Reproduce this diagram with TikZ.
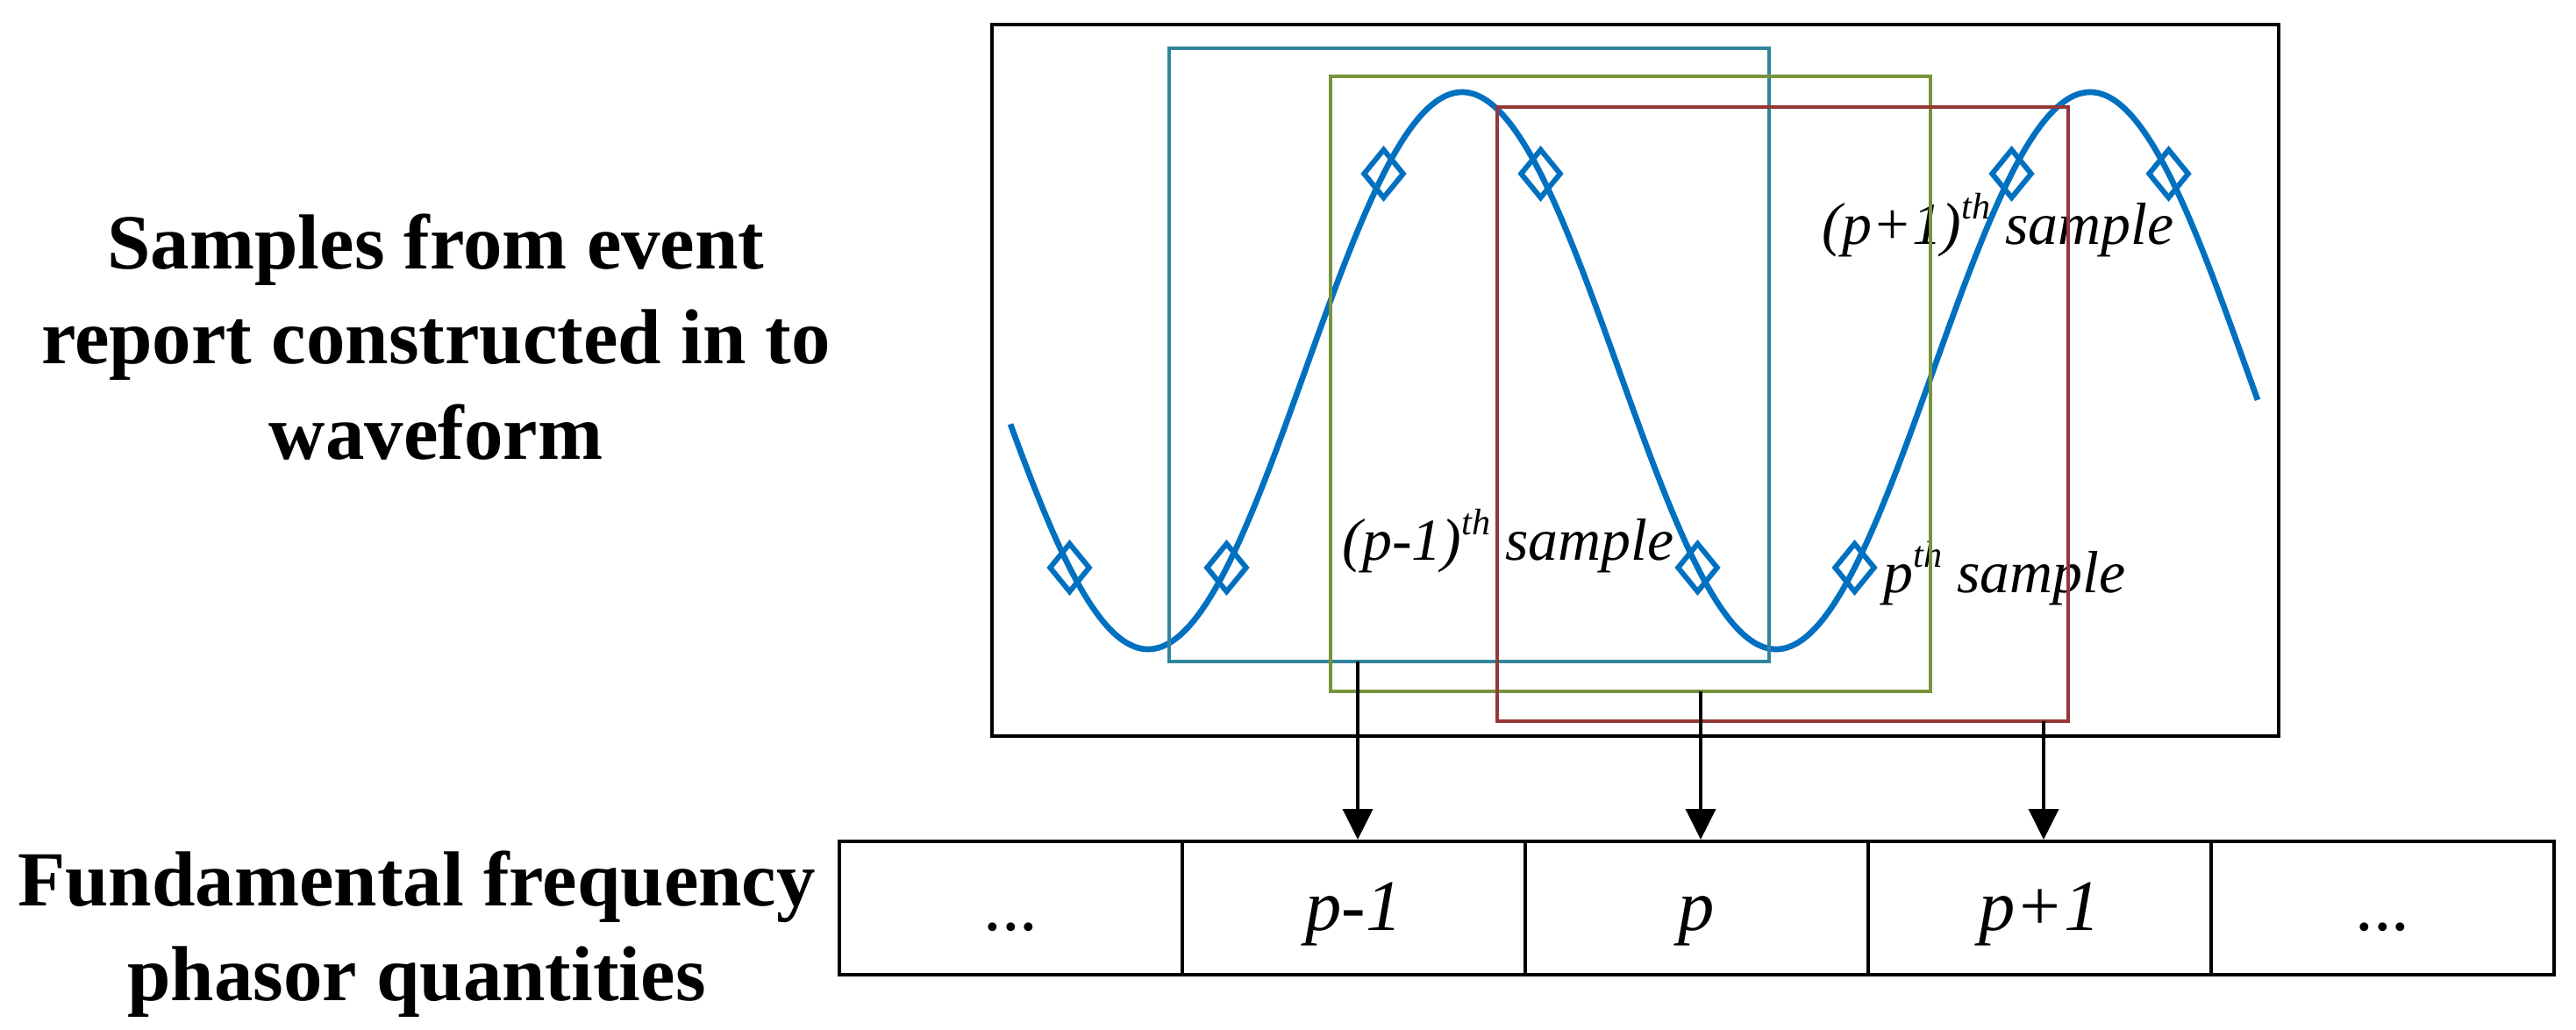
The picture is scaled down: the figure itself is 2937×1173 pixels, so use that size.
\documentclass[tikz,border=0pt]{standalone}
\usepackage{fontspec}
\setmainfont{Liberation Serif}
\usetikzlibrary{shapes.geometric,arrows.meta}
\definecolor{wavec}{HTML}{0070C0}
\definecolor{tealc}{HTML}{31859C}
\definecolor{greenc}{HTML}{77933C}
\definecolor{redc}{HTML}{953735}
\newcommand{\thsup}{\raisebox{0.42em}{\fontsize{12pt}{14pt}\selectfont th}}
\tikzset{
  frame/.style={draw=black, line width=1.3pt, inner sep=0},
  winbox/.style={draw=#1, line width=1pt, inner sep=0},
  wave/.style={draw=wavec, line width=1.9pt},
  marker/.style={diamond, draw=wavec, line width=1.7pt, inner sep=0, minimum width=4.7mm, minimum height=5.7mm},
  lbl/.style={inner sep=0, font=\fontsize{19.3pt}{22pt}\selectfont\itshape},
  bigtxt/.style={anchor=north, align=center, inner sep=0, font=\fontsize{25.3pt}{30.9pt}\selectfont\bfseries},
  cell/.style={draw, line width=1.15pt, minimum width=39.1mm, minimum height=15.2mm, inner sep=0, text height=6mm, text depth=1mm, font=\fontsize{23.5pt}{26pt}\selectfont\itshape},
  arr/.style={line width=1.15pt, -{Triangle[length=3.5mm,width=3.4mm]}}
}
\begin{document}
\begin{tikzpicture}[x=0.1mm,y=-0.1mm]
\useasboundingbox (0,0) rectangle (2937,1173);
% outer frame
\node[frame, minimum width=146.7mm, minimum height=81.1mm] (frame) at (1864.5,433.5) {};
% waveform
\draw[wave] plot[domain=-157:1265, samples=300, smooth] ({1309+\x}, {422.5+317.5*cos(\x*0.502793)});
% sample markers
\node[marker] (m1) at (1219.5,647) {};
\node[marker] (m2) at (1398.5,647) {};
\node[marker] (m3) at (1577.5,198) {};
\node[marker] (m4) at (1756.5,198) {};
\node[marker] (m5) at (1935.5,647) {};
\node[marker] (m6) at (2114.5,647) {};
\node[marker] (m7) at (2293.5,198) {};
\node[marker] (m8) at (2472.5,198) {};
% sample labels
\node[lbl, anchor=base west] (lpm) at (1530,638) {(p-1)\thsup{} sample};
\node[lbl, anchor=base west] (lp) at (2147,675) {p\thsup{} sample};
\node[lbl, anchor=base west] (lpp) at (2077,278) {(p+1)\thsup{} sample};
% windows
\node[winbox=tealc, minimum width=68.4mm, minimum height=69.9mm] (w1) at (1675,404.5) {};
\node[winbox=greenc, minimum width=68.4mm, minimum height=70.1mm] (w2) at (1859,437.5) {};
\node[winbox=redc, minimum width=65.1mm, minimum height=70.0mm] (w3) at (2032.5,472) {};
% left texts
\node[bigtxt] (t1) at (497,243) {Samples from event\\report constructed in to\\waveform};
\node[bigtxt] (t2) at (475,969) {Fundamental frequency\\phasor quantities};
% phasor cells
\node[cell] (c0) at (1152.5,1035) {\upshape ...};
\node[cell] (c1) at (1543.5,1035) {p-1};
\node[cell] (c2) at (1934.5,1035) {p};
\node[cell] (c3) at (2325.5,1035) {p+1};
\node[cell] (c4) at (2716.5,1035) {\upshape ...};
% arrows
\coordinate (s1) at (1548,754);
\coordinate (s2) at (1939,788);
\coordinate (s3) at (2330,822);
\draw[arr] (s1) -- (s1 |- c1.north);
\draw[arr] (s2) -- (s2 |- c2.north);
\draw[arr] (s3) -- (s3 |- c3.north);
\end{tikzpicture}
\end{document}
